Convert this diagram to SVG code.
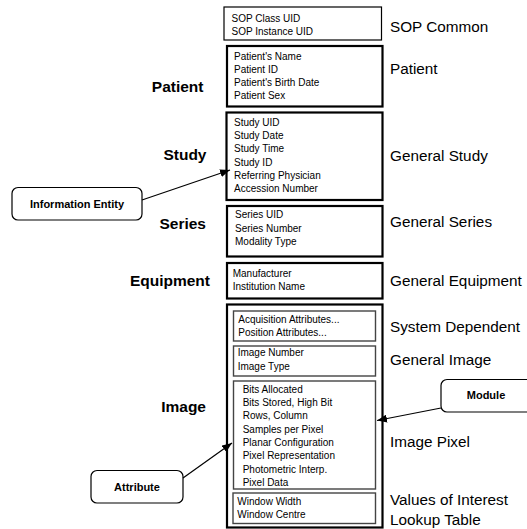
<svg xmlns="http://www.w3.org/2000/svg" width="527" height="529" viewBox="0 0 527 529">
  <defs>
    <marker id="arrow" viewBox="0 0 10 8" refX="10" refY="4" markerWidth="10" markerHeight="8" markerUnits="userSpaceOnUse" orient="auto">
      <path d="M0,0 L10,4 L0,8 Z" fill="#000"/>
    </marker>
  </defs>
  <style>
    text { font-family: "Liberation Sans", Arial, sans-serif; fill: #000; }
    .attr { font-size: 10px; }
    .module { font-size: 15.3px; }
    .entity { font-size: 15.5px; font-weight: bold; text-anchor: end; }
    .callout { font-size: 11px; font-weight: bold; text-anchor: middle; }
    .box { fill: #fff; stroke: #000; stroke-width: 2.2; }
    .thin { fill: #fff; stroke: #000; stroke-width: 1.2; }
    .inner { fill: #fff; stroke: #444; stroke-width: 1.4; }
    .tag { fill: #fff; stroke: #000; stroke-width: 1.2; }
    .conn { stroke: #000; stroke-width: 1.2; fill: none; }
  </style>
  <rect width="527" height="529" fill="#fff"/>

  <!-- SOP Common -->
  <g id="sop-common">
    <rect class="thin" x="224" y="7" width="157.5" height="33"/>
    <text class="attr" x="231.5" y="21.5">SOP Class UID</text>
    <text class="attr" x="231.5" y="34.5">SOP Instance UID</text>
    <text class="module" x="390" y="31.5">SOP Common</text>
  </g>

  <!-- Patient -->
  <g id="patient">
    <text class="entity" x="203.5" y="91.5">Patient</text>
    <rect class="box" x="227" y="46" width="155.5" height="60.5"/>
    <text class="attr" x="234" y="59.5">Patient's Name</text>
    <text class="attr" x="234" y="72.8">Patient ID</text>
    <text class="attr" x="234" y="86.1">Patient's Birth Date</text>
    <text class="attr" x="234" y="99.4">Patient Sex</text>
    <text class="module" x="390" y="74">Patient</text>
  </g>

  <!-- Study -->
  <g id="study">
    <text class="entity" x="206.5" y="160">Study</text>
    <rect class="box" x="226.5" y="112.5" width="156" height="87.5"/>
    <text class="attr" x="234" y="125.7">Study UID</text>
    <text class="attr" x="234" y="139">Study Date</text>
    <text class="attr" x="234" y="152.3">Study Time</text>
    <text class="attr" x="234" y="165.6">Study ID</text>
    <text class="attr" x="234" y="178.9">Referring Physician</text>
    <text class="attr" x="234" y="192.4">Accession Number</text>
    <text class="module" x="390" y="160.7">General Study</text>
  </g>

  <!-- Series -->
  <g id="series">
    <text class="entity" x="206" y="229">Series</text>
    <rect class="box" x="227" y="206" width="155.5" height="50.5"/>
    <text class="attr" x="235" y="218.3">Series UID</text>
    <text class="attr" x="235" y="231.7">Series Number</text>
    <text class="attr" x="235" y="245.2">Modality Type</text>
    <text class="module" x="390" y="226.7">General Series</text>
  </g>

  <!-- Equipment -->
  <g id="equipment">
    <text class="entity" x="210" y="286">Equipment</text>
    <rect class="box" x="227" y="263" width="155.5" height="35.5"/>
    <text class="attr" x="232.7" y="276.7">Manufacturer</text>
    <text class="attr" x="232.7" y="290">Institution Name</text>
    <text class="module" x="390" y="286">General Equipment</text>
  </g>

  <!-- Image, with its modules nested -->
  <g id="image">
    <text class="entity" x="206" y="411.7">Image</text>
    <rect class="box" x="227" y="304.5" width="155.5" height="223"/>

    <g id="system-dependent">
      <rect class="inner" x="233.5" y="311" width="142" height="30"/>
      <text class="attr" x="238.3" y="323.3">Acquisition Attributes...</text>
      <text class="attr" x="238.3" y="336">Position Attributes...</text>
      <text class="module" x="390" y="331.7">System Dependent</text>
    </g>

    <g id="general-image">
      <rect class="inner" x="233.5" y="346" width="142" height="30"/>
      <text class="attr" x="237.7" y="356.3">Image Number</text>
      <text class="attr" x="237.7" y="369.5">Image Type</text>
      <text class="module" x="390" y="365">General Image</text>
    </g>

    <g id="image-pixel">
      <rect class="inner" x="233.5" y="381" width="142" height="108"/>
      <text class="attr" x="242.7" y="392.8">Bits Allocated</text>
      <text class="attr" x="242.7" y="406">Bits Stored, High Bit</text>
      <text class="attr" x="242.7" y="419.3">Rows, Column</text>
      <text class="attr" x="242.7" y="432.6">Samples per Pixel</text>
      <text class="attr" x="242.7" y="445.7">Planar Configuration</text>
      <text class="attr" x="242.7" y="459.2">Pixel Representation</text>
      <text class="attr" x="242.7" y="472.6">Photometric Interp.</text>
      <text class="attr" x="242.7" y="486">Pixel Data</text>
      <text class="module" x="390" y="447.3">Image Pixel</text>
    </g>

    <g id="voi-lut">
      <rect class="inner" x="233" y="493" width="142.5" height="30.5"/>
      <text class="attr" x="237.3" y="505">Window Width</text>
      <text class="attr" x="237.3" y="518.3">Window Centre</text>
      <text class="module" x="390" y="505">Values of Interest</text>
      <text class="module" x="390" y="525">Lookup Table</text>
    </g>
  </g>

  <!-- Callout labels -->
  <g id="information-entity">
    <rect class="tag" x="12" y="187.5" width="130" height="32.5" rx="6" ry="6"/>
    <text class="callout" x="77" y="208">Information Entity</text>
  </g>
  <g id="attribute">
    <rect class="tag" x="91" y="470.5" width="92" height="32.5" rx="6" ry="6"/>
    <text class="callout" x="137" y="491">Attribute</text>
  </g>
  <g id="module">
    <rect class="tag" x="441" y="379.5" width="100" height="32.5" rx="6" ry="6"/>
    <text class="callout" x="486" y="399">Module</text>
  </g>

  <!-- Connectors -->
  <g id="connectors">
    <line class="conn" x1="142" y1="200" x2="230" y2="170" marker-end="url(#arrow)"/>
    <line class="conn" x1="183" y1="478" x2="232" y2="443" marker-end="url(#arrow)"/>
    <line class="conn" x1="441" y1="408" x2="377" y2="420.5" marker-end="url(#arrow)"/>
  </g>
</svg>
